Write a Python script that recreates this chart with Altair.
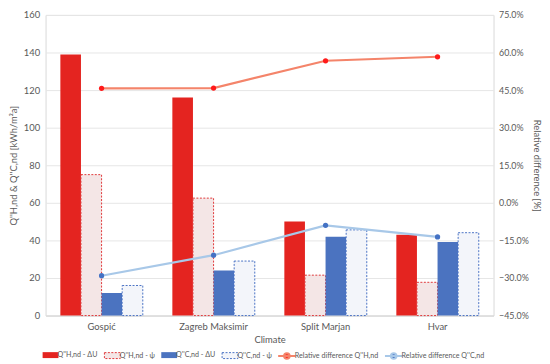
import altair as alt
import pandas as pd

climates = ["Gospić", "Zagreb Maksimir", "Split Marjan", "Hvar"]
bar_series = ["Q''H,nd - ΔU", "Q''H,nd - ψ", "Q''C,nd - ΔU", "Q''C,nd - ψ"]
qh_du = [139, 116, 50, 43]
qh_psi = [75, 62.5, 21.5, 17.7]
qc_du = [12, 24, 42, 39.2]
qc_psi = [16, 29, 45.6, 44.1]
rel_series = ["Relative difference Q''H,nd", "Relative difference Q''C,nd"]
rel_h = [45.7, 45.8, 56.7, 58.3]
rel_c = [-29.1, -20.9, -9.0, -13.6]

FONT = "Lato"
TXT = "#595959"

bars = pd.DataFrame(
    [{"climate": c, "series": s, "value": v}
     for s, vals in zip(bar_series, [qh_du, qh_psi, qc_du, qc_psi])
     for c, v in zip(climates, vals)]
)
lines = pd.DataFrame(
    [{"climate": c, "rel": s, "pct": v}
     for s, vals in zip(rel_series, [rel_h, rel_c])
     for c, v in zip(climates, vals)]
)

x_enc = alt.X(
    "climate:N", sort=climates,
    scale=alt.Scale(paddingInner=0.264, paddingOuter=0.132),
    axis=alt.Axis(title="Climate", labelAngle=0, ticks=False, domainColor="#d9d9d9",
                  labelPadding=6, titlePadding=4),
)
xoff = alt.XOffset("series:N", sort=bar_series,
                   scale=alt.Scale(domain=bar_series, paddingInner=0, paddingOuter=0))

RECT = "M-2,-0.75H2V0.75H-2Z"
LINESYM = "M-2.2,0H2.2M0.7,0A0.7,0.7 0 1,1 -0.7,0A0.7,0.7 0 1,1 0.7,0"


def bar_layer(i, fill, stroke=None, first=False):
    s = bar_series[i]
    mk = dict(fill=fill)
    leg = dict(title=None, orient="bottom", symbolType=RECT, symbolSize=64, padding=1)
    if stroke:
        mk.update(stroke=stroke, strokeDash=[2, 1.5], strokeWidth=1)
        leg.update(symbolStrokeColor=stroke, symbolDash=[2, 1.5], symbolStrokeWidth=1)
    else:
        leg.update(symbolStrokeWidth=0)
    yax = alt.Axis(title="Q''H,nd & Q''C,nd [kWh/m²a]", values=list(range(0, 161, 20)),
                   labelOverlap=False, ticks=False, domain=False, gridColor="#e6e6e6",
                   labelPadding=6, titlePadding=5) if first else None
    return alt.Chart(bars).transform_filter(alt.datum.series == s).mark_bar(**mk).encode(
        x=x_enc, xOffset=xoff,
        y=alt.Y("value:Q", scale=alt.Scale(domain=[0, 160], nice=False), axis=yax),
        color=alt.Color("series:N", scale=alt.Scale(domain=[s], range=[fill]), legend=alt.Legend(**leg)),
    )


def line_layers(i, lcol, pcol, first=False):
    s = rel_series[i]
    yax = alt.Axis(title="Relative difference [%]", orient="right", values=list(range(-45, 76, 15)),
                   labelOverlap=False,
                   labelExpr="format(datum.value, '.1f') + '%'", ticks=False, domain=False, grid=False,
                   labelPadding=5, titlePadding=3, labelFontSize=9) if first else None
    base = alt.Chart(lines).transform_filter(alt.datum.rel == s)
    ln = base.mark_line(strokeWidth=2.2).encode(
        x=x_enc,
        y=alt.Y("pct:Q", scale=alt.Scale(domain=[-45, 75], nice=False), axis=yax),
        stroke=alt.Stroke("rel:N", scale=alt.Scale(domain=[s], range=[lcol]),
                          legend=alt.Legend(title=None, orient="bottom", symbolType=LINESYM, symbolSize=64,
                                            symbolFillColor=pcol, symbolStrokeWidth=2, padding=1)),
    )
    pt = base.mark_circle(size=28, color=pcol, opacity=1).encode(
        x=x_enc,
        y=alt.Y("pct:Q", scale=alt.Scale(domain=[-45, 75], nice=False), axis=None),
    )
    return [ln, pt]


layers = [
    bar_layer(0, "#e42420", first=True),
    bar_layer(1, "#f4e6e6", stroke="#e0393b"),
    bar_layer(2, "#4b73c0"),
    bar_layer(3, "#f3f5fa", stroke="#4a72c4"),
] + line_layers(0, "#f4846a", "#ff1a1a", first=True) + line_layers(1, "#a8c8e8", "#4472c4")

chart = alt.layer(*layers).resolve_scale(
    y="independent", color="independent", stroke="independent"
).properties(
    width=540, height=358,
    autosize=alt.AutoSizeParams(type="fit", contains="padding"),
    padding={"left": 0, "right": 0, "top": 0, "bottom": 0},
).configure_view(stroke="#d9d9d9").configure_axis(
    labelFont=FONT, titleFont=FONT, labelColor=TXT, titleColor=TXT,
    labelFontSize=9.5, titleFontSize=9.5, titleFontWeight="normal",
).configure_legend(
    labelFont=FONT, labelColor=TXT, labelFontSize=7.2, offset=6, columnPadding=6,
    symbolOffset=0, labelOffset=3,
)

chart.save("out.html", embed_options={"renderer": "svg", "actions": False})
